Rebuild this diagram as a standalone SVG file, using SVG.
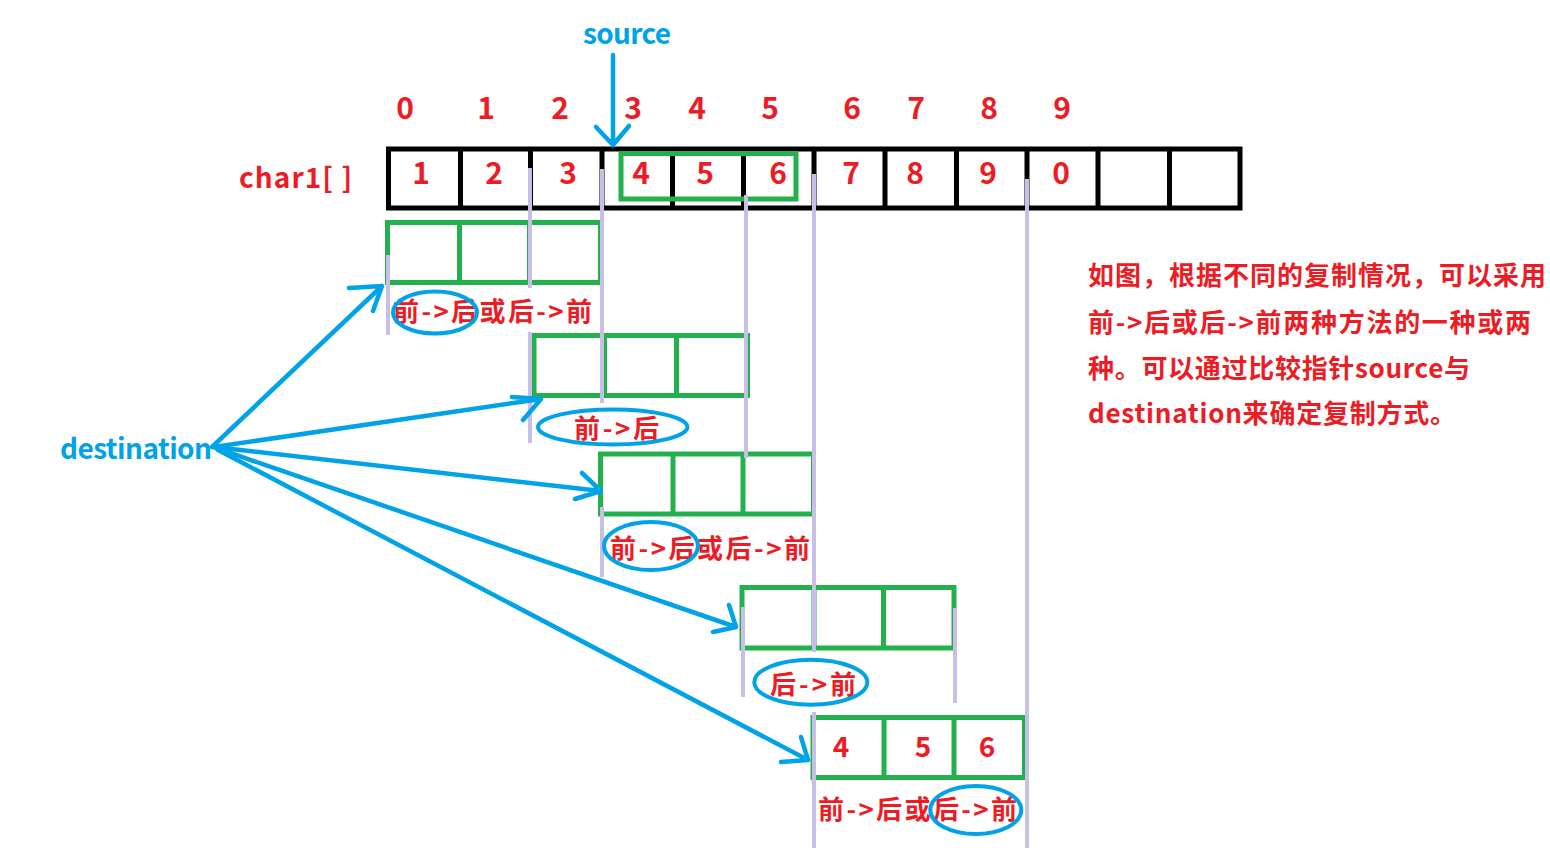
<svg xmlns="http://www.w3.org/2000/svg" width="1550" height="848" viewBox="0 0 1550 848">
<style>
text{font-family:"Noto Sans CJK SC","Microsoft YaHei",sans-serif;font-weight:bold}
.r{fill:#ed1c24}
.b{fill:#00a2e8}
.num{font-size:30px;text-anchor:middle}
.lbl{font-size:26px}
.blk{fill:none;stroke:#000;stroke-width:5}
.g{fill:none;stroke:#22b14c;stroke-width:5}
.lav{stroke:#c8bfe7;stroke-width:4;fill:none}
.arr{stroke:#00a2e8;stroke-width:4.5;fill:none;stroke-linecap:round;stroke-linejoin:round}
.ell{fill:none;stroke:#00a2e8;stroke-width:4}
</style>
<rect width="1550" height="848" fill="#fff"/>

<g id="array">
  <rect class="blk" x="388.5" y="149" width="851.5" height="59"/>
  <path class="blk" d="M460.5 149V208M530.5 149V208M602 149V208M672.5 149V208M743.5 149V208M814 149V208M885 149V208M956.5 149V208M1027 149V208M1098 149V208M1169.5 149V208"/>
  <rect class="g" x="621" y="153.5" width="175" height="45.5"/>
  <text class="r" x="239" y="188" font-size="28" textLength="113" lengthAdjust="spacing">char1[ ]</text>
  <g class="r num">
    <text x="405" y="119">0</text><text x="486" y="119">1</text><text x="560" y="119">2</text><text x="633" y="119">3</text><text x="697" y="119">4</text><text x="770" y="119">5</text><text x="852" y="119">6</text><text x="916" y="119">7</text><text x="989" y="119">8</text><text x="1062" y="119">9</text>
    <text x="421" y="184">1</text><text x="494" y="184">2</text><text x="568" y="184">3</text><text x="641" y="184">4</text><text x="705" y="184">5</text><text x="778" y="184">6</text><text x="851" y="184">7</text><text x="915" y="184">8</text><text x="988" y="184">9</text><text x="1061" y="184">0</text>
  </g>
</g>

<g id="source">
  <text class="b" x="583" y="44" font-size="28" textLength="88" lengthAdjust="spacing">source</text>
</g>

<g id="destination">
  <text class="b" x="60" y="459" font-size="28" textLength="152" lengthAdjust="spacing">destination</text>
</g>

<g id="box1">
  <rect class="g" x="387.5" y="222.5" width="213" height="60"/>
  <path class="g" d="M459.5 222.5V282.5M529.5 222.5V282.5"/>
  <text class="r lbl" x="393" y="321" textLength="199" lengthAdjust="spacing">前-&gt;后或后-&gt;前</text>
</g>

<g id="box2">
  <rect class="g" x="534" y="335.5" width="213.5" height="60"/>
  <path class="g" d="M604.5 335.5V395.5M676.5 335.5V395.5"/>
  <text class="r lbl" x="574" y="438" textLength="85" lengthAdjust="spacing">前-&gt;后</text>
</g>

<g id="box3">
  <rect class="g" x="600.5" y="454" width="213" height="60"/>
  <path class="g" d="M673 454V514M743 454V514"/>
  <text class="r lbl" x="610" y="557.5" textLength="200" lengthAdjust="spacing">前-&gt;后或后-&gt;前</text>
</g>

<g id="box4">
  <rect class="g" x="742" y="587.5" width="212" height="60.5"/>
  <path class="g" d="M814 587.5V648M883.5 587.5V648"/>
  <text class="r lbl" x="770" y="694" textLength="86" lengthAdjust="spacing">后-&gt;前</text>
</g>

<g id="box5">
  <rect class="g" x="813" y="717.5" width="211.5" height="60"/>
  <path class="g" d="M884 717.5V777.5M954 717.5V777.5"/>
  <g class="r num" style="font-size:28px">
    <text x="841" y="757">4</text><text x="923" y="757">5</text><text x="987" y="757">6</text>
  </g>
  <text class="r lbl" x="818" y="819" textLength="199" lengthAdjust="spacing">前-&gt;后或后-&gt;前</text>
</g>

<g id="note" class="r" font-size="26">
  <text x="1088" y="285" textLength="458" lengthAdjust="spacing">如图，根据不同的复制情况，可以采用</text>
  <text x="1088" y="331.5" textLength="443" lengthAdjust="spacing">前-&gt;后或后-&gt;前两种方法的一种或两</text>
  <text x="1088" y="378" textLength="382" lengthAdjust="spacing">种。可以通过比较指针source与</text>
  <text x="1088" y="423" textLength="368" lengthAdjust="spacing">destination来确定复制方式。</text>
</g>

<g id="connectors">
  <g id="guides" class="lav">
    <path d="M388 255V335M530 168V288M530 332V443M602 169V403M602 507V577M746 195V458M814 174V652M814 712V848M1027 179V848M743 607V697M955 608V703"/>
  </g>
  <g id="circles">
    <ellipse class="ell" cx="435" cy="312.5" rx="42" ry="21"/>
    <ellipse class="ell" cx="612.7" cy="427" rx="74.7" ry="17.5"/>
    <ellipse class="ell" cx="651" cy="546" rx="47" ry="24"/>
    <ellipse class="ell" cx="810.8" cy="682.2" rx="56.5" ry="22.5"/>
    <ellipse class="ell" cx="975.8" cy="810" rx="45.5" ry="24"/>
  </g>
  <g id="arrows" class="arr">
    <path d="M613 55V145M596 127L613 145L629 126"/>
    <path d="M212 447L382 286M349 288L382 286L373 311"/>
    <path d="M214 447L541 399M512 397L541 399L523 420"/>
    <path d="M214 447L601 491M582 473L601 491L575 499"/>
    <path d="M216 448L736 627M729 605L736 627L713 632"/>
    <path d="M218 450L808 760M801 737L808 760L781 762"/>
  </g>
</g>
</svg>
